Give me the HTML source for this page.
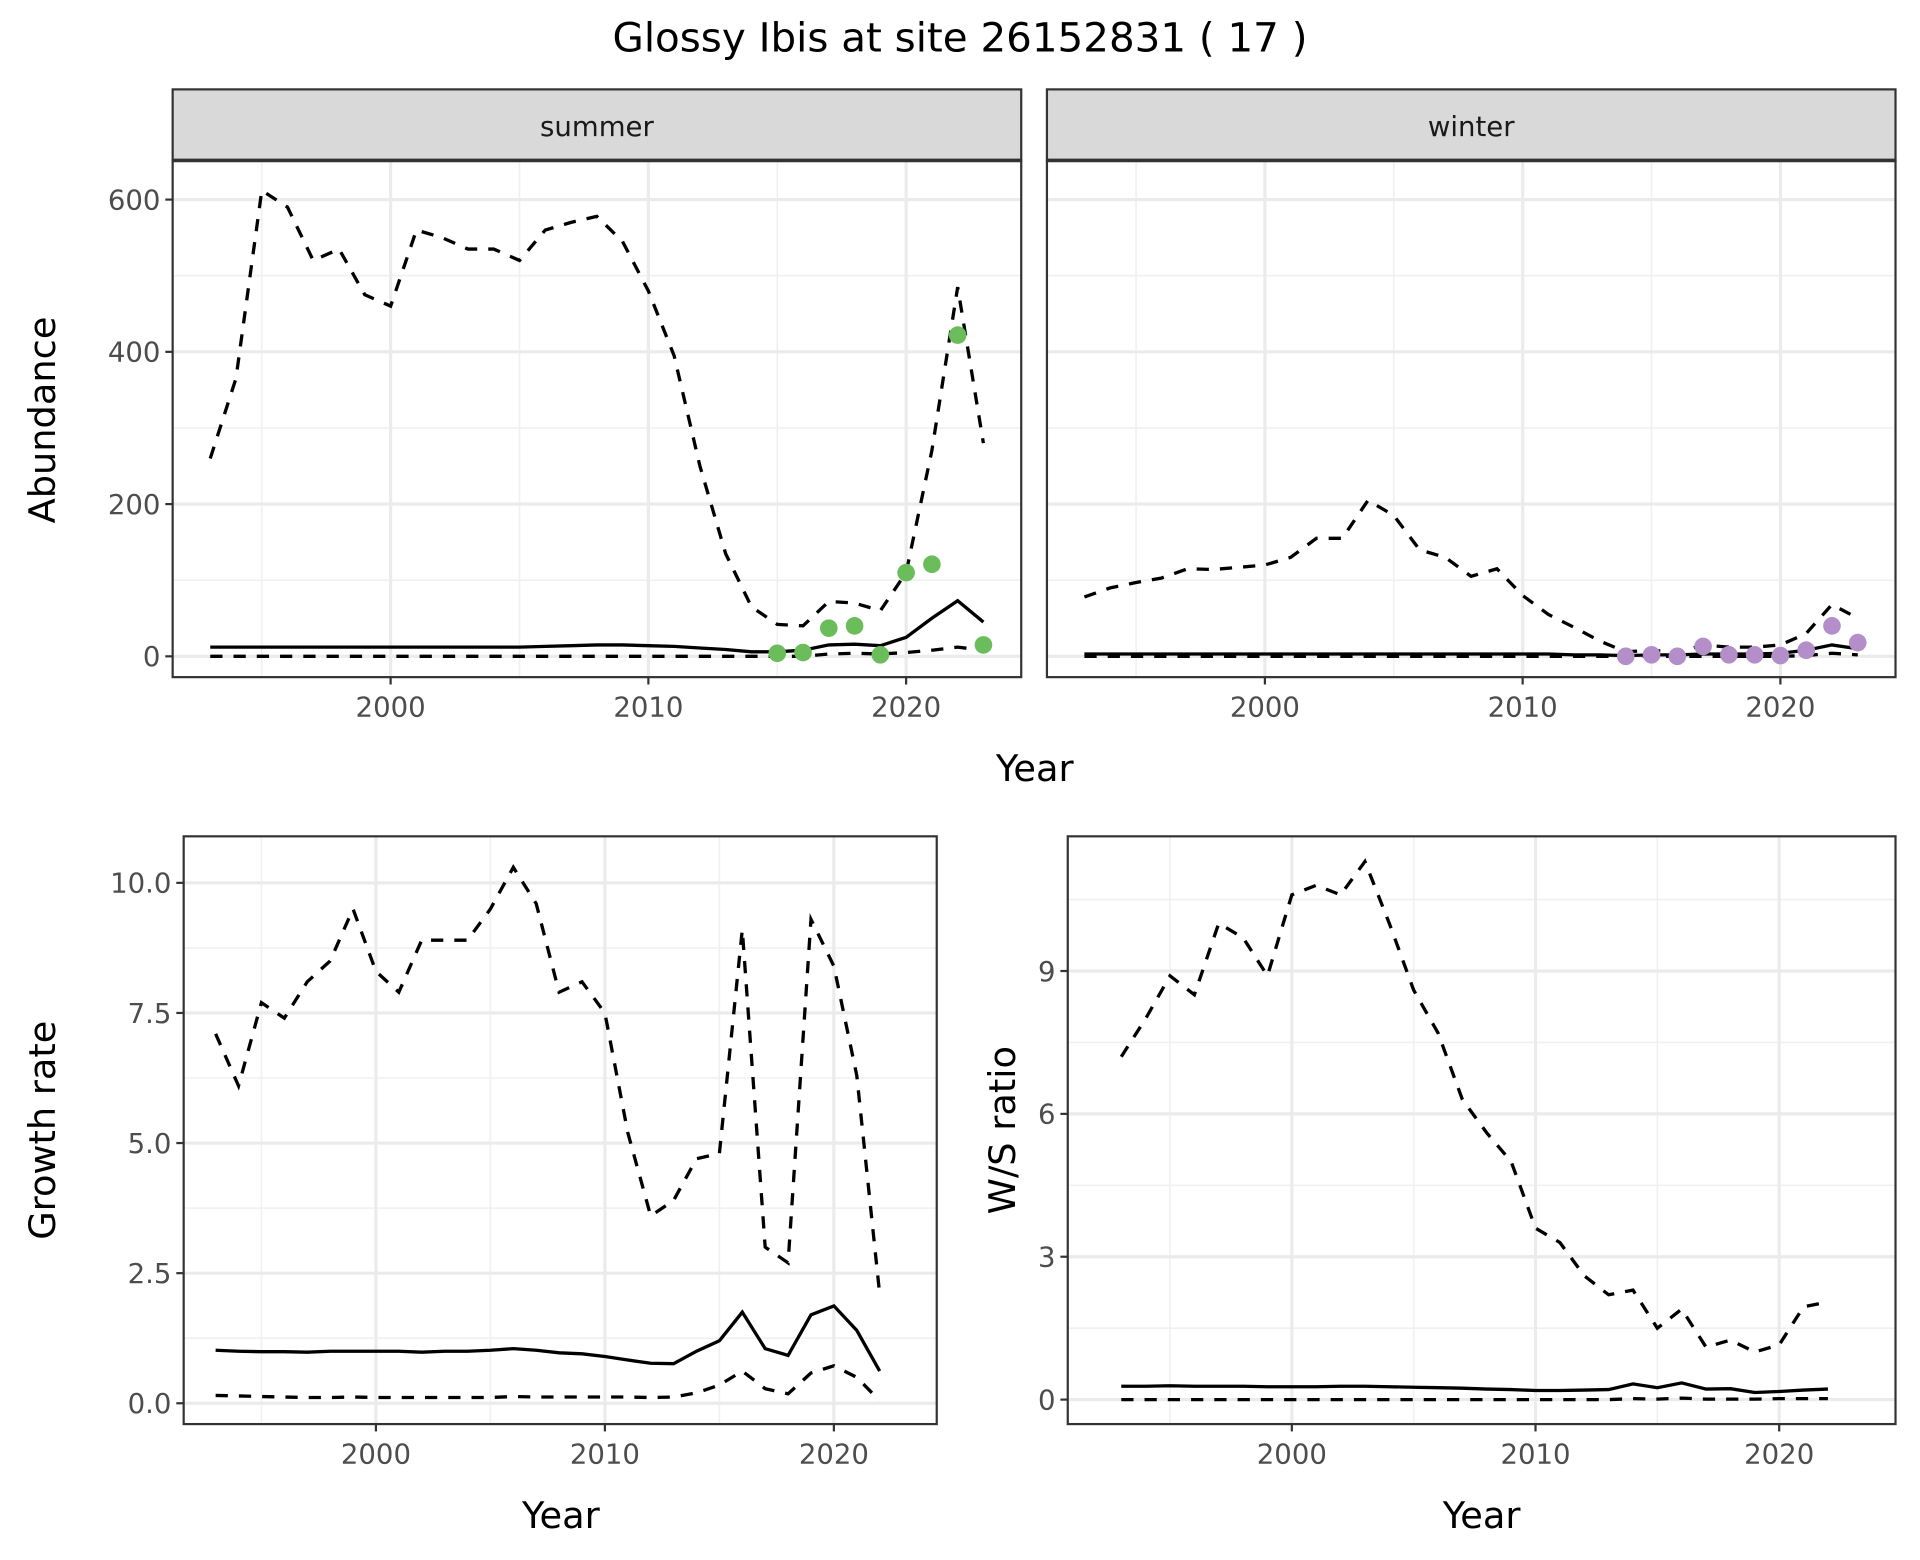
<!DOCTYPE html>
<html><head><meta charset="utf-8"><style>
html,body{margin:0;padding:0;background:#fff;}
svg{display:block;font-family:"DejaVu Sans","Liberation Sans",sans-serif;}
</style></head><body>
<svg id="chart" width="1920" height="1560" viewBox="0 0 1568 1274" preserveAspectRatio="none" xmlns="http://www.w3.org/2000/svg">
<text x="784" y="42" text-anchor="middle" font-size="33" fill="#000">Glossy Ibis at site 26152831 ( 17 )</text>
</svg>
<script>
const yearsAB = [1993,1994,1995,1996,1997,1998,1999,2000,2001,2002,2003,2004,2005,2006,2007,2008,2009,2010,2011,2012,2013,2014,2015,2016,2017,2018,2019,2020,2021,2022,2023];
const summerUpper = [260,365,612,590,520,535,475,460,560,550,535,535,520,560,570,578,545,480,395,250,135,65,42,40,72,70,60,110,270,485,280];
const summerMid = [12,12,12,12,12,12,12,12,12,12,12,12,12,13,14,15,15,14,13,11,9,6,6,8,15,16,14,25,50,73,45];
const summerLower = [0,0,0,0,0,0,0,0,0,0,0,0,0,0,0,0,0,0,0,0,0,0,0,0,3,4,3,5,8,12,8];
const summerPtYears = [2015,2016,2017,2018,2019,2020,2021,2022,2023];
const summerPts = [4,5,37,40,2,110,121,422,15];
const winterUpper = [78,90,97,103,115,114,117,120,130,155,155,205,185,140,130,105,115,80,55,38,20,6,8,5,15,12,12,15,30,68,50];
const winterMid = [3,3,3,3,3,3,3,3,3,3,3,3,3,3,3,3,3,3,3,2,2,1,2,2,3,3,3,4,8,15,10];
const winterLower = [0,0,0,0,0,0,0,0,0,0,0,0,0,0,0,0,0,0,0,0,0,0,0,0,0,0,0,0,1,4,2];
const winterPtYears = [2014,2015,2016,2017,2018,2019,2020,2021,2022,2023];
const winterPts = [0,2,0,13,2,2,1,8,40,18];
const yearsCD = [1993,1994,1995,1996,1997,1998,1999,2000,2001,2002,2003,2004,2005,2006,2007,2008,2009,2010,2011,2012,2013,2014,2015,2016,2017,2018,2019,2020,2021,2022];
const growthUpper = [7.1,6.1,7.7,7.4,8.1,8.5,9.5,8.3,7.9,8.9,8.9,8.9,9.5,10.3,9.6,7.9,8.1,7.5,5.2,3.6,3.9,4.7,4.8,9.1,3.0,2.7,9.3,8.4,6.3,2.1];
const growthMid = [1.02,1.0,0.99,0.99,0.98,1.0,1.0,1.0,1.0,0.98,1.0,1.0,1.02,1.05,1.02,0.97,0.95,0.9,0.83,0.77,0.76,1.0,1.2,1.75,1.05,0.92,1.7,1.87,1.4,0.62];
const growthLower = [0.15,0.14,0.13,0.12,0.11,0.11,0.12,0.11,0.11,0.11,0.11,0.11,0.11,0.13,0.12,0.12,0.12,0.12,0.12,0.11,0.12,0.2,0.35,0.62,0.28,0.18,0.58,0.72,0.5,0.05];
const ratioUpper = [7.2,8.0,8.9,8.5,10.0,9.7,8.9,10.6,10.8,10.6,11.3,10.0,8.6,7.7,6.3,5.6,5.0,3.6,3.3,2.6,2.2,2.3,1.5,1.9,1.1,1.25,1.0,1.15,1.95,2.05];
const ratioMid = [0.28,0.28,0.29,0.28,0.28,0.28,0.27,0.27,0.27,0.28,0.28,0.27,0.26,0.25,0.24,0.22,0.21,0.19,0.19,0.2,0.21,0.33,0.25,0.35,0.22,0.23,0.15,0.17,0.2,0.22];
const ratioLower = [0,0,0,0,0,0,0,0,0,0,0,0,0,0,0,0,0,0,0,0,0,0.02,0.01,0.03,0.01,0.01,0.01,0.02,0.02,0.02];
const xTickLabels = ["2000","2010","2020"];
const abTicks = ["0","200","400","600"];
const growthTicks = ["0.0","2.5","5.0","7.5","10.0"];
const ratioTicks = ["0","3","6","9"];

const NS="http://www.w3.org/2000/svg";
const svg=document.getElementById('chart');
function mk(tag,attrs,parent){const e=document.createElementNS(NS,tag);for(const k in attrs)e.setAttribute(k,attrs[k]);(parent||svg).appendChild(e);return e;}

function panel(o){
  const g=mk('g',{});
  
  
  const sx=v=>o.x0+(v-o.xa)*(o.x1-o.x0)/(o.xb-o.xa);
  const sy=v=>o.y0+(v-o.ya)*(o.y1-o.y0)/(o.yb-o.ya);
  mk('rect',{x:o.L,y:o.T,width:o.R-o.L,height:o.B-o.T,fill:'#fff'},g);
  o.xMinor.forEach(v=>{const X=sx(v);if(X>o.L&&X<o.R)mk('line',{x1:X,x2:X,y1:o.T,y2:o.B,stroke:'#f0f0f0','stroke-width':1.3},g);});
  o.yMinor.forEach(v=>{const Y=sy(v);if(Y>o.T&&Y<o.B)mk('line',{x1:o.L,x2:o.R,y1:Y,y2:Y,stroke:'#f0f0f0','stroke-width':1.3},g);});
  xTickLabels.forEach(t=>{const X=sx(+t);mk('line',{x1:X,x2:X,y1:o.T,y2:o.B,stroke:'#ebebeb','stroke-width':2.6},g);});
  o.yTicks.forEach(t=>{const Y=sy(parseFloat(t));mk('line',{x1:o.L,x2:o.R,y1:Y,y2:Y,stroke:'#ebebeb','stroke-width':2.6},g);});
  const line=(xs,ys,dash)=>mk('path',{d:xs.map((x,i)=>(i?'L':'M')+sx(x).toFixed(1)+','+sy(ys[i]).toFixed(1)).join(''),fill:'none',stroke:'#000','stroke-width':2.7,'stroke-dasharray':dash?'10,9':'none'},g);
  o.series.forEach(s=>{const p=line(s.x,s.y,s.dash);});
  if(o.pts){o.pts.y.forEach((v,i)=>{const c=mk('circle',{cx:sx(o.pts.x[i]),cy:sy(v),r:7.2,fill:o.pts.color},g);});}
  mk('rect',{x:o.L,y:o.T,width:o.R-o.L,height:o.B-o.T,fill:'none',stroke:'#333','stroke-width':1.8},g);
  xTickLabels.forEach(t=>{const X=sx(+t);mk('line',{x1:X,x2:X,y1:o.B,y2:o.B+6,stroke:'#333','stroke-width':1.8},g);
    const tx=mk('text',{x:X,y:o.B+32,'text-anchor':'middle','font-size':22.5,fill:'#4d4d4d'},g);tx.textContent=t;});
  if(o.showY){o.yTicks.forEach(t=>{const Y=sy(parseFloat(t));mk('line',{x1:o.L-6,x2:o.L,y1:Y,y2:Y,stroke:'#333','stroke-width':1.8},g);
    const tx=mk('text',{x:o.L-10,y:Y+8,'text-anchor':'end','font-size':22.5,fill:'#4d4d4d'},g);tx.textContent=t;});}
  if(o.strip){mk('rect',{x:o.L,y:73,width:o.R-o.L,height:58,fill:'#d9d9d9',stroke:'#333','stroke-width':1.8},g);
    mk('line',{x1:o.L,x2:o.R,y1:131,y2:131,stroke:'#333','stroke-width':3},g);
    const st=mk('text',{x:(o.L+o.R)/2,y:111,'text-anchor':'middle','font-size':22.5,fill:'#1a1a1a'},g);st.textContent=o.strip;}
}
const yrs=[1995,2005,2015];
panel({name:'summer-panel',L:141,R:834,T:131,B:553,x0:319,x1:740,xa:2000,xb:2020,y0:536,y1:163,ya:0,yb:600,
  xMinor:yrs,yMinor:[100,300,500],yTicks:abTicks,showY:true,strip:'summer',
  series:[{name:'summer-upper-ci',x:yearsAB,y:summerUpper,dash:true},{name:'summer-estimate',x:yearsAB,y:summerMid},{name:'summer-lower-ci',x:yearsAB,y:summerLower,dash:true}],
  pts:{x:summerPtYears,y:summerPts,color:'#6abd5a'}});
panel({name:'winter-panel',L:855,R:1548,T:131,B:553,x0:1033,x1:1454,xa:2000,xb:2020,y0:536,y1:163,ya:0,yb:600,
  xMinor:yrs,yMinor:[100,300,500],yTicks:abTicks,showY:false,strip:'winter',
  series:[{name:'winter-upper-ci',x:yearsAB,y:winterUpper,dash:true},{name:'winter-estimate',x:yearsAB,y:winterMid},{name:'winter-lower-ci',x:yearsAB,y:winterLower,dash:true}],
  pts:{x:winterPtYears,y:winterPts,color:'#b48ec8'}});
panel({name:'growth-panel',L:150,R:765,T:683,B:1163,x0:307,x1:681,xa:2000,xb:2020,y0:1146,y1:721,ya:0,yb:10,
  xMinor:yrs,yMinor:[1.25,3.75,6.25,8.75],yTicks:growthTicks,showY:true,
  series:[{name:'growth-upper-ci',x:yearsCD,y:growthUpper,dash:true},{name:'growth-estimate',x:yearsCD,y:growthMid},{name:'growth-lower-ci',x:yearsCD,y:growthLower,dash:true}]});
panel({name:'ratio-panel',L:872,R:1548,T:683,B:1163,x0:1055,x1:1453,xa:2000,xb:2020,y0:1143,y1:793,ya:0,yb:9,
  xMinor:yrs,yMinor:[1.5,4.5,7.5,10.5],yTicks:ratioTicks,showY:true,
  series:[{name:'ratio-upper-ci',x:yearsCD,y:ratioUpper,dash:true},{name:'ratio-estimate',x:yearsCD,y:ratioMid},{name:'ratio-lower-ci',x:yearsCD,y:ratioLower,dash:true}]});
function title(txt,x,y,rot,name){const t=mk('text',{x:x,y:y,'text-anchor':'middle','font-size':30,fill:'#000',transform:rot?`rotate(-90 ${x} ${y})`:''});t.textContent=txt;
  
  }
title('Year',845,638,false,'top-x-axis-title');
title('Abundance',45,343,true,'abundance-y-axis-title');
title('Year',458,1248,false,'growth-x-axis-title');
title('Year',1210,1248,false,'ratio-x-axis-title');
title('Growth rate',45,923,true,'growth-y-axis-title');
title('W/S ratio',829,923,true,'ratio-y-axis-title');
</script>
</body></html>
